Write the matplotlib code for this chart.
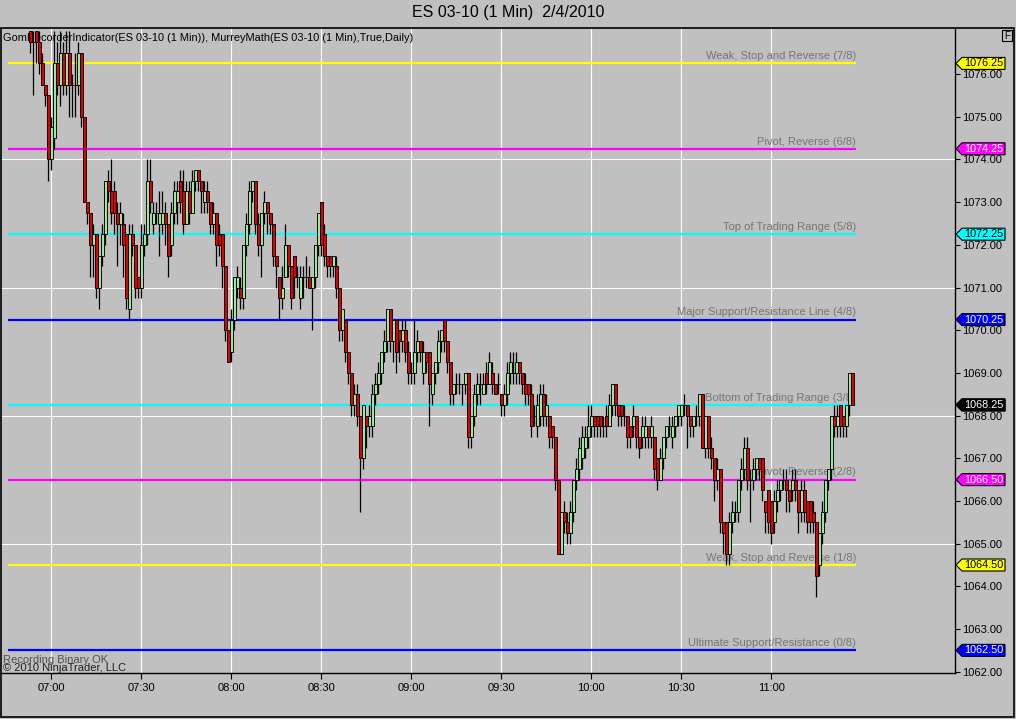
import numpy as np
import pandas as pd
import matplotlib
matplotlib.use('Agg')
import matplotlib.pyplot as plt
from matplotlib.patches import Polygon, Rectangle

plt.rcParams['font.family'] = ['Liberation Sans', 'DejaVu Sans']

# ES 03-10, 1 minute bars on 2/4/2010, first bar at 06:53
start = '2010-02-04 06:53'

opens = [
    1077.0, 1076.75, 1077.0, 1076.75, 1076.25, 1075.75, 1075.5, 1074.0, 1074.5, 1076.25,
    1075.75, 1076.5, 1075.75, 1076.5, 1075.75, 1075.75, 1075.75, 1076.5, 1075.0, 1073.0,
    1072.75, 1072.0, 1072.25, 1071.0, 1071.75, 1072.25, 1073.5, 1073.25, 1073.25, 1072.75,
    1072.5, 1072.5, 1072.25, 1070.5, 1072.25, 1072.0, 1071.25, 1071.0, 1072.0, 1072.25,
    1073.5, 1072.5, 1072.75, 1072.5, 1072.5, 1072.75, 1072.5, 1072.0, 1072.75, 1073.0,
    1073.5, 1073.25, 1072.5, 1073.25, 1072.75, 1073.5, 1073.75, 1073.5, 1073.0, 1073.25,
    1073.0, 1072.5, 1072.75, 1072.25, 1072.25, 1071.5, 1070.0, 1069.5, 1070.25, 1071.0,
    1071.0, 1070.75, 1072.0, 1072.5, 1073.25, 1073.5, 1072.5, 1072.0, 1072.75, 1073.0,
    1072.75, 1072.5, 1071.75, 1071.25, 1070.75, 1071.25, 1072.0, 1071.5, 1071.75, 1071.25,
    1070.75, 1071.25, 1071.25, 1071.25, 1071.0, 1071.25, 1072.0, 1073.0, 1072.25, 1071.75,
    1071.75, 1071.5, 1071.5, 1071.0, 1070.0, 1070.25, 1069.5, 1069.0, 1068.25, 1068.5,
    1068.0, 1067.0, 1068.0, 1067.75, 1067.75, 1068.5, 1068.75, 1069.0, 1069.5, 1069.75,
    1070.5, 1069.75, 1070.25, 1070.0, 1069.75, 1070.0, 1069.5, 1069.0, 1069.0, 1069.5,
    1069.75, 1069.0, 1069.5, 1069.5, 1068.5, 1069.0, 1069.25, 1069.75, 1070.25, 1069.75,
    1069.25, 1068.5, 1068.75, 1068.75, 1068.75, 1068.75, 1069.0, 1067.5, 1068.0, 1068.5,
    1068.75, 1068.5, 1069.0, 1068.75, 1069.0, 1068.75, 1068.75, 1068.5, 1068.25, 1068.5,
    1069.0, 1069.0, 1069.0, 1069.25, 1069.0, 1068.75, 1068.75, 1068.5, 1068.0, 1067.75,
    1068.0, 1068.5, 1068.0, 1068.0, 1067.75, 1067.5, 1066.5, 1064.75, 1065.75, 1065.5,
    1065.25, 1065.75, 1066.5, 1066.75, 1067.0, 1067.25, 1067.5, 1067.75, 1068.0, 1068.0,
    1068.0, 1067.75, 1068.0, 1067.75, 1068.25, 1068.75, 1068.25, 1068.25, 1068.0, 1068.0,
    1067.75, 1067.75, 1068.0, 1067.5, 1067.5, 1067.5, 1067.75, 1067.5, 1067.5, 1067.0,
    1066.5, 1067.0, 1067.5, 1067.75, 1067.5, 1067.75, 1068.0, 1068.0, 1068.25, 1068.25,
    1068.0, 1067.75, 1068.0, 1068.0, 1068.5, 1067.25, 1068.0, 1067.25, 1067.0, 1066.5,
    1066.75, 1065.5, 1065.5, 1064.75, 1065.5, 1065.75, 1065.75, 1066.5, 1066.75, 1067.25,
    1066.5, 1066.5, 1066.75, 1067.0, 1067.0, 1066.0, 1066.25, 1066.0, 1065.5, 1066.0,
    1066.25, 1066.5, 1066.5, 1066.25, 1066.25, 1066.5, 1066.25, 1065.75, 1066.25, 1066.0,
    1066.0, 1065.75, 1065.5, 1064.5, 1065.25, 1065.75, 1066.5, 1066.75, 1068.0, 1067.75,
    1068.25, 1068.0, 1067.75, 1068.25, 1069.0,
]
highs = [
    1077.0, 1077.0, 1077.0, 1077.0, 1076.5, 1075.75, 1075.5, 1075.0, 1077.0, 1076.75,
    1077.0, 1076.75, 1077.0, 1077.0, 1076.0, 1076.5, 1076.75, 1076.5, 1075.0, 1073.0,
    1072.75, 1072.5, 1072.25, 1071.75, 1072.5, 1073.5, 1073.75, 1074.0, 1073.5, 1073.0,
    1073.0, 1072.75, 1072.25, 1072.5, 1072.5, 1072.0, 1071.25, 1072.5, 1072.5, 1074.0,
    1074.0, 1073.0, 1073.0, 1073.25, 1073.25, 1073.0, 1072.5, 1073.0, 1073.5, 1073.5,
    1073.75, 1073.75, 1073.5, 1073.5, 1073.75, 1073.75, 1073.75, 1073.5, 1073.5, 1073.5,
    1073.0, 1073.0, 1072.75, 1072.5, 1072.25, 1071.5, 1070.0, 1070.5, 1071.25, 1071.5,
    1071.25, 1072.0, 1072.75, 1073.5, 1073.5, 1073.5, 1072.75, 1072.75, 1073.25, 1073.0,
    1072.75, 1072.5, 1071.75, 1071.25, 1071.5, 1072.5, 1072.0, 1071.5, 1071.75, 1071.5,
    1071.5, 1071.5, 1071.75, 1071.5, 1071.25, 1072.0, 1072.75, 1073.0, 1072.5, 1071.75,
    1071.75, 1071.75, 1071.75, 1071.0, 1070.5, 1070.25, 1069.5, 1069.0, 1068.75, 1068.75,
    1068.0, 1068.25, 1068.0, 1068.25, 1068.75, 1069.0, 1069.25, 1069.5, 1070.0, 1070.5,
    1070.5, 1070.25, 1070.25, 1070.0, 1070.25, 1070.25, 1069.75, 1069.25, 1070.25, 1070.0,
    1069.75, 1069.75, 1069.5, 1069.5, 1069.0, 1069.25, 1070.0, 1070.0, 1070.25, 1069.75,
    1069.25, 1068.75, 1069.0, 1069.0, 1068.75, 1069.0, 1069.0, 1068.0, 1068.75, 1069.0,
    1069.0, 1069.0, 1069.25, 1069.5, 1069.25, 1068.75, 1069.0, 1068.5, 1068.75, 1069.25,
    1069.5, 1069.5, 1069.5, 1069.25, 1069.0, 1069.0, 1068.75, 1068.75, 1068.25, 1068.5,
    1068.75, 1068.75, 1068.5, 1068.0, 1067.75, 1067.5, 1066.5, 1065.75, 1066.0, 1065.75,
    1066.0, 1066.5, 1067.0, 1067.5, 1067.75, 1067.75, 1068.25, 1068.25, 1068.0, 1068.0,
    1068.0, 1068.0, 1068.25, 1068.5, 1068.75, 1068.75, 1068.25, 1068.25, 1068.25, 1068.0,
    1067.75, 1068.25, 1068.0, 1067.5, 1068.0, 1068.0, 1067.75, 1068.0, 1067.5, 1067.0,
    1067.25, 1067.5, 1067.75, 1068.0, 1068.0, 1068.0, 1068.25, 1068.25, 1068.5, 1068.25,
    1068.0, 1068.0, 1068.25, 1068.5, 1068.5, 1068.0, 1068.0, 1067.5, 1067.0, 1067.0,
    1066.75, 1065.5, 1065.5, 1065.75, 1066.0, 1066.0, 1066.5, 1067.0, 1067.5, 1067.5,
    1066.75, 1067.0, 1067.0, 1067.0, 1067.0, 1066.0, 1066.25, 1066.0, 1066.25, 1066.5,
    1066.5, 1066.75, 1066.75, 1066.25, 1066.75, 1066.75, 1066.25, 1066.5, 1066.5, 1066.0,
    1066.0, 1066.0, 1065.5, 1065.25, 1066.0, 1066.5, 1066.75, 1068.0, 1068.25, 1068.25,
    1068.25, 1068.0, 1068.25, 1069.0, 1069.0,
]
lows = [
    1076.5, 1075.5, 1076.25, 1076.0, 1075.75, 1075.25, 1073.5, 1073.75, 1074.25, 1075.5,
    1075.25, 1075.5, 1075.5, 1075.0, 1075.0, 1075.0, 1075.5, 1074.75, 1073.0, 1072.5,
    1071.25, 1071.25, 1070.75, 1070.5, 1071.5, 1072.0, 1073.0, 1072.5, 1072.25, 1071.5,
    1072.0, 1071.25, 1070.5, 1070.25, 1071.75, 1070.75, 1070.75, 1070.75, 1071.75, 1072.0,
    1072.75, 1072.25, 1072.5, 1071.75, 1072.25, 1072.0, 1071.25, 1071.75, 1072.5, 1072.5,
    1072.75, 1072.25, 1072.5, 1072.5, 1072.75, 1073.25, 1073.25, 1072.75, 1072.75, 1072.75,
    1072.25, 1072.25, 1071.5, 1071.75, 1071.0, 1069.75, 1069.25, 1069.25, 1070.0, 1070.75,
    1070.5, 1070.5, 1071.75, 1072.25, 1073.0, 1072.25, 1071.75, 1071.25, 1072.5, 1072.25,
    1072.25, 1071.5, 1071.0, 1070.25, 1070.5, 1071.25, 1071.25, 1070.5, 1070.75, 1071.0,
    1070.5, 1070.75, 1071.0, 1071.0, 1070.0, 1071.0, 1071.75, 1071.75, 1071.5, 1071.25,
    1071.25, 1071.25, 1070.75, 1069.75, 1069.75, 1069.25, 1068.75, 1068.0, 1068.0, 1067.75,
    1065.75, 1066.75, 1067.25, 1067.5, 1067.5, 1068.25, 1068.5, 1068.75, 1069.25, 1069.5,
    1069.5, 1069.25, 1069.0, 1069.25, 1069.5, 1069.25, 1068.75, 1068.75, 1068.75, 1069.25,
    1069.25, 1068.75, 1069.0, 1067.75, 1068.25, 1068.75, 1069.0, 1069.5, 1069.5, 1069.0,
    1068.25, 1068.25, 1068.5, 1068.5, 1068.25, 1068.5, 1067.25, 1067.25, 1067.75, 1068.25,
    1068.25, 1068.5, 1068.5, 1068.75, 1068.5, 1068.5, 1068.5, 1068.0, 1068.0, 1068.25,
    1068.75, 1068.75, 1068.75, 1068.75, 1068.5, 1068.25, 1068.25, 1067.5, 1067.75, 1067.5,
    1067.75, 1067.75, 1067.75, 1067.25, 1067.25, 1066.25, 1064.75, 1064.75, 1065.25, 1065.0,
    1065.0, 1065.5, 1066.25, 1066.5, 1066.75, 1067.0, 1067.25, 1067.5, 1067.5, 1067.5,
    1067.5, 1067.5, 1067.5, 1067.75, 1068.0, 1068.0, 1067.75, 1067.75, 1067.75, 1067.25,
    1067.25, 1067.5, 1067.25, 1067.0, 1067.25, 1067.25, 1067.25, 1067.25, 1066.5, 1066.25,
    1066.5, 1066.75, 1067.25, 1067.5, 1067.25, 1067.5, 1067.75, 1067.75, 1068.0, 1067.25,
    1067.5, 1067.5, 1067.75, 1067.75, 1067.25, 1067.0, 1067.0, 1066.75, 1066.0, 1066.25,
    1065.25, 1064.75, 1064.5, 1064.5, 1065.25, 1065.5, 1065.5, 1066.25, 1066.5, 1066.25,
    1065.5, 1066.25, 1066.5, 1066.5, 1066.0, 1065.25, 1065.25, 1065.0, 1065.25, 1065.75,
    1066.0, 1066.25, 1065.75, 1065.75, 1066.0, 1066.0, 1065.25, 1065.5, 1065.5, 1065.25,
    1065.25, 1065.25, 1063.75, 1064.25, 1065.0, 1065.5, 1066.25, 1066.5, 1067.5, 1067.5,
    1067.5, 1067.5, 1067.5, 1068.0, 1068.25,
]
closes = [
    1076.75, 1076.75, 1076.75, 1076.25, 1075.75, 1075.5, 1074.0, 1074.75, 1076.25, 1075.75,
    1076.5, 1075.75, 1076.5, 1075.75, 1075.75, 1075.75, 1076.5, 1075.0, 1073.0, 1072.75,
    1072.0, 1072.25, 1071.0, 1071.75, 1072.25, 1073.5, 1073.25, 1072.75, 1072.75, 1072.5,
    1072.75, 1072.0, 1070.75, 1072.25, 1072.0, 1071.0, 1071.0, 1072.0, 1072.25, 1073.5,
    1073.0, 1072.75, 1072.75, 1072.75, 1072.75, 1072.5, 1071.75, 1072.75, 1073.25, 1073.25,
    1073.0, 1072.5, 1073.25, 1072.75, 1073.5, 1073.75, 1073.5, 1073.25, 1073.25, 1073.0,
    1072.5, 1072.75, 1072.0, 1072.0, 1071.5, 1070.0, 1069.25, 1070.25, 1071.25, 1071.25,
    1070.75, 1072.0, 1072.5, 1073.25, 1073.5, 1072.5, 1072.0, 1072.75, 1073.0, 1072.75,
    1072.5, 1071.75, 1071.5, 1070.75, 1071.0, 1072.0, 1071.5, 1070.75, 1071.25, 1071.25,
    1071.25, 1071.25, 1071.25, 1071.0, 1071.25, 1072.0, 1072.75, 1072.0, 1071.75, 1071.5,
    1071.5, 1071.75, 1071.0, 1070.0, 1070.5, 1069.5, 1069.0, 1068.25, 1068.5, 1068.0,
    1067.0, 1068.25, 1067.75, 1068.0, 1068.5, 1068.75, 1069.0, 1069.5, 1069.75, 1070.5,
    1069.75, 1070.25, 1069.5, 1069.75, 1070.0, 1069.5, 1069.0, 1069.0, 1069.5, 1069.75,
    1069.5, 1069.5, 1069.25, 1068.75, 1069.0, 1069.25, 1069.75, 1070.0, 1069.75, 1069.25,
    1068.5, 1068.75, 1068.75, 1068.75, 1068.75, 1069.0, 1067.5, 1068.0, 1068.5, 1068.75,
    1068.75, 1068.75, 1068.75, 1069.25, 1068.75, 1068.5, 1068.75, 1068.25, 1068.5, 1069.0,
    1069.25, 1069.0, 1069.25, 1069.0, 1068.75, 1068.5, 1068.5, 1067.75, 1068.0, 1068.25,
    1068.5, 1068.0, 1068.25, 1067.5, 1067.5, 1066.5, 1064.75, 1065.75, 1065.5, 1065.25,
    1065.75, 1066.5, 1066.75, 1067.25, 1067.5, 1067.5, 1067.75, 1068.0, 1067.75, 1067.75,
    1067.75, 1067.75, 1067.75, 1068.25, 1068.75, 1068.25, 1068.0, 1068.0, 1068.0, 1067.5,
    1067.5, 1068.0, 1067.5, 1067.25, 1067.75, 1067.75, 1067.5, 1067.75, 1066.75, 1066.5,
    1067.0, 1067.5, 1067.75, 1067.75, 1067.75, 1068.0, 1068.25, 1068.25, 1068.25, 1068.0,
    1067.75, 1068.0, 1068.0, 1068.5, 1067.25, 1068.0, 1067.25, 1067.0, 1066.5, 1066.75,
    1065.5, 1065.25, 1064.75, 1065.5, 1065.75, 1065.75, 1066.5, 1066.75, 1067.25, 1066.5,
    1066.5, 1066.75, 1067.0, 1066.75, 1066.25, 1065.75, 1065.5, 1065.25, 1066.0, 1066.25,
    1066.5, 1066.5, 1066.25, 1066.0, 1066.5, 1066.25, 1065.75, 1066.25, 1065.75, 1065.5,
    1065.5, 1065.5, 1064.25, 1065.25, 1065.75, 1066.5, 1066.75, 1068.0, 1067.75, 1068.0,
    1067.75, 1067.75, 1068.25, 1069.0, 1068.25,
]

# MurreyMath daily levels
mm_levels = [1076.25, 1074.25, 1072.25, 1070.25, 1068.25, 1066.50, 1064.50, 1062.50]
mm_names = ['Weak, Stop and Reverse (7/8)', 'Pivot, Reverse (6/8)',
            'Top of Trading Range (5/8)', 'Major Support/Resistance Line (4/8)',
            'Bottom of Trading Range (3/8)', 'Pivot, Reverse (2/8)',
            'Weak, Stop and Reverse (1/8)', 'Ultimate Support/Resistance (0/8)']
mm_colors = ['#ffff00', '#ff00ff', '#00ffff', '#0000ff',
             '#00ffff', '#ff00ff', '#ffff00', '#0000ff']
mm_textcol = ['black', 'white', 'black', 'white', 'black', 'white', 'black', 'white']

price_ticks = np.arange(1062, 1077, 1.0)
grid_prices = [1065, 1068, 1071, 1074]

o = np.array(opens)
h = np.array(highs)
l = np.array(lows)
c = np.array(closes)
n = len(c)
x = np.arange(n)
times = pd.date_range(start, periods=n, freq='min')

W, H = 1016, 719
bg = '#c0c0c0'
fig = plt.figure(figsize=(W / 100, H / 100), dpi=100, facecolor=bg)
# plot area in pixels: x 1..955, y 28..673
ax = fig.add_axes([1 / W, (H - 673) / H, 954 / W, 645 / H])
ax.set_facecolor(bg)
ax.set_xlim(-9.67, 308.3)
ax.set_ylim(1061.97, 1077.08)
for s in ['top', 'left']:
    ax.spines[s].set_visible(False)
for s in ['right', 'bottom']:
    ax.spines[s].set_color('black')
    ax.spines[s].set_linewidth(1.0)

# time axis
tpos = [i for i, t in enumerate(times) if t.minute % 30 == 0]
ax.set_xticks(tpos)
ax.set_xticklabels([times[i].strftime('%H:%M') for i in tpos])
ax.tick_params(axis='x', direction='out', length=4, width=0.8, labelsize=8, pad=3)

# price axis
ax.yaxis.tick_right()
ax.set_yticks(price_ticks)
ax.set_yticklabels([f'{v:.2f}' for v in price_ticks])
ax.tick_params(axis='y', direction='out', length=3.5, width=0.8, labelsize=8, pad=1.5)

# white grid
for t in tpos:
    ax.axvline(t, color='white', lw=0.8, zorder=0.5)
for p in grid_prices:
    ax.axhline(p, color='white', lw=0.8, zorder=0.5)

# murrey math lines and their names
x0, x1 = -7.3, n + 0.3
for lev, name, col in zip(mm_levels, mm_names, mm_colors):
    ax.hlines(lev, x0, x1, color=col, lw=1.6, zorder=1)
    ax.text(x1, lev + 0.05, name, ha='right', va='bottom', fontsize=8,
            color='#747474', zorder=1.5)

ax.text(3 / W, 1 - 38 / H,
        'GomRecorderIndicator(ES 03-10 (1 Min)), MurreyMath(ES 03-10 (1 Min),True,Daily)',
        transform=fig.transFigure, ha='left', va='center', fontsize=7.9, zorder=1.5)
ax.text(3 / W, 1 - 660 / H, 'Recording Binary OK', transform=fig.transFigure,
        ha='left', va='center', fontsize=8, color='#505050', zorder=1.5)
ax.text(3 / W, 1 - 668 / H, '\u00a9 2010 NinjaTrader, LLC', transform=fig.transFigure,
        ha='left', va='center', fontsize=8, color='#202020', zorder=1.5)

# candles
up = c >= o
ax.vlines(x, l, h, color='black', lw=0.9, zorder=2)
ax.bar(x, np.abs(c - o), bottom=np.minimum(o, c), width=1.0,
       color=np.where(up, '#9ae89a', '#e00000'), edgecolor='black',
       linewidth=0.65, zorder=3)


# price tags on the right axis
def tag(price, face, tcol):
    tr = ax.get_yaxis_transform()
    aw = 954.0
    xa, xb, xc = (956 - 955) / aw + 1, (962 - 955) / aw + 1, (1005 - 955) / aw + 1
    dh = 6.0 / 42.71
    poly = Polygon([[xa, price], [xb, price + dh], [xc, price + dh],
                    [xc, price - dh], [xb, price - dh]], closed=True,
                   transform=tr, facecolor=face, edgecolor='black', lw=0.8,
                   clip_on=False, zorder=6)
    ax.add_patch(poly)
    ax.text((xb + xc) / 2, price, f'{price:.2f}', transform=tr,
            ha='center', va='center', fontsize=7.8, color=tcol,
            clip_on=False, zorder=7)


for lev, col, tc in zip(mm_levels, mm_colors, mm_textcol):
    tag(lev, col, tc)
tag(c[-1], 'black', 'white')

fig.text(0.5, 1 - 12 / H, 'ES 03-10 (1 Min)  2/4/2010', ha='center', va='center',
         fontsize=11.5)

# outer frame and the F box
fig.add_artist(Rectangle((1 / W, (H - 717) / H), 1013 / W, 689 / H, fill=False,
                         edgecolor='black', lw=1.2, transform=fig.transFigure))
fig.add_artist(Rectangle((1002 / W, (H - 41) / H), 10 / W, 11 / H, fill=False,
                         edgecolor='black', lw=0.8, transform=fig.transFigure))
fig.text(1007 / W, 1 - 36 / H, 'F', ha='center', va='center', fontsize=7)

fig.savefig('out.png', dpi=100, facecolor=bg)
